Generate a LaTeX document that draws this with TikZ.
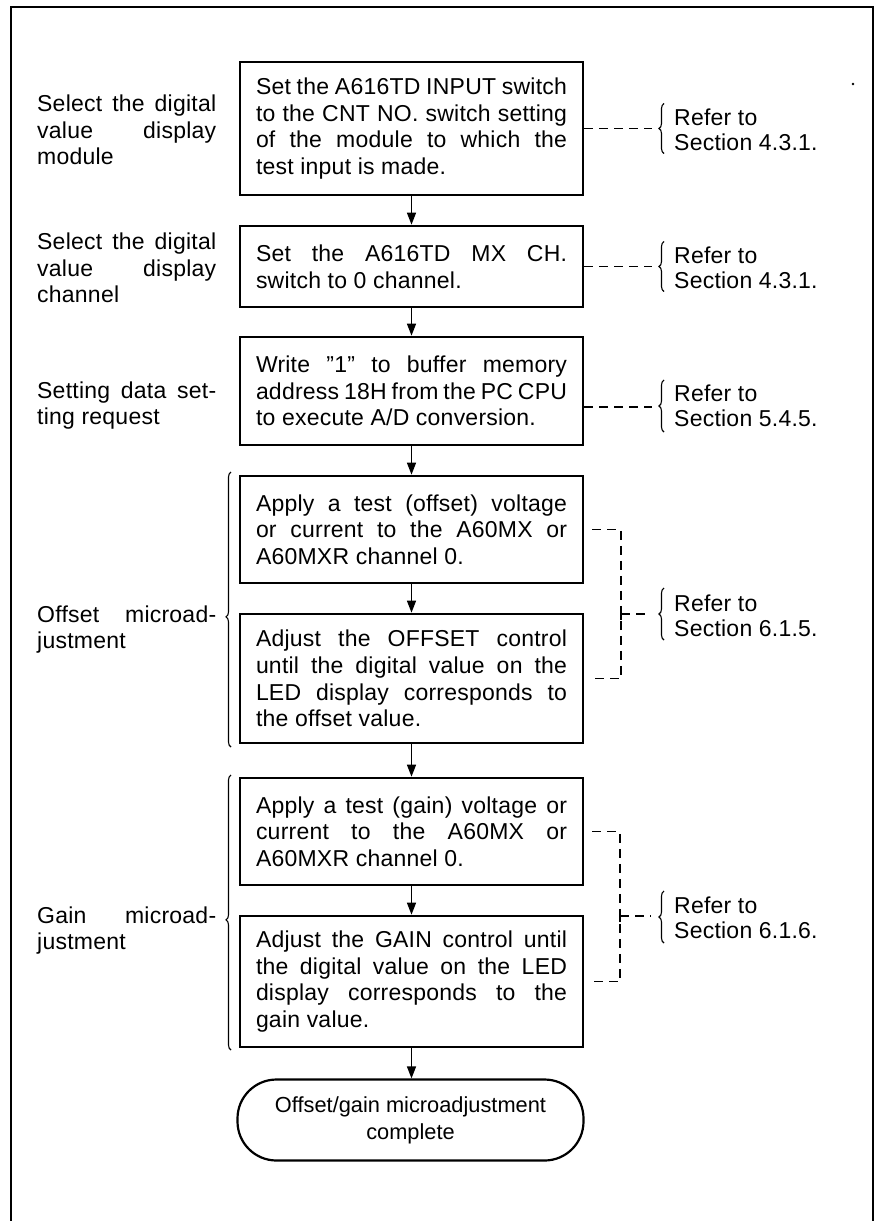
\documentclass[tikz,border=0pt]{standalone}
\usepackage{fontspec}
\setmainfont{Liberation Sans}[LetterSpace=1]
\newfontfamily\termfont{Liberation Sans}
\usetikzlibrary{arrows.meta,decorations.pathreplacing}
\tolerance=9999
\hbadness=10000
\hfuzz=20pt
\tikzset{
 stepbox/.style={draw, line width=2.7pt, minimum width=343pt, text width=311pt, align=justify, inner sep=0pt, font=\fontsize{23}{26.7}\selectfont},
 lbl/.style={anchor=west, text width=179pt, align=justify, inner sep=0pt, font=\fontsize{23}{26.5}\selectfont},
 ref/.style={anchor=west, align=left, inner sep=0pt, font=\fontsize{23}{25}\selectfont},
 term/.style={draw, line width=2.2pt, rounded corners=39pt, minimum width=346pt, minimum height=81pt, align=center, inner sep=0pt, font=\termfont\fontsize{21.8}{27}\selectfont},
 arr/.style={line width=1.5pt, -{Triangle[length=12pt,width=9pt]}},
 dsh/.style={line width=1.5pt, dash pattern=on 9pt off 6pt},
 brc/.style={line width=1.1pt, decorate, decoration={brace, amplitude=5pt}},
 bigbrc/.style={line width=1.1pt, decorate, decoration={brace, amplitude=5pt, aspect=0.473}},
}
\begin{document}
\begin{tikzpicture}[x=1pt,y=-1pt]
\useasboundingbox (0,0) rectangle (876,1221);
\draw[line width=1.8pt] (11,1221) -- (11,7) -- (873,7) -- (873,1221);
\fill (853,84) circle (1.3pt);

% boxes
\node[stepbox, minimum height=133pt] (b1) at (411.5,128.5) {Set the A616TD INPUT switch\linebreak to the CNT NO. switch setting\linebreak of the module to which the\linebreak test input is made.};
\node[stepbox, minimum height=81pt] (b2) at (411.5,266.5) {Set the A616TD MX CH.\linebreak switch to 0 channel.};
\node[stepbox, minimum height=108pt] (b3) at (411.5,391) {Write "1" to buffer memory\linebreak address 18H from the PC CPU\linebreak to execute A/D conversion.};
\node[stepbox, minimum height=107pt] (b4) at (411.5,529.5) {Apply a test (offset) voltage\linebreak or current to the A60MX or\linebreak A60MXR channel 0.};
\node[stepbox, minimum height=129pt] (b5) at (411.5,678.5) {Adjust the OFFSET control\linebreak until the digital value on the\linebreak LED display corresponds to\linebreak the offset value.};
\node[stepbox, minimum height=107pt] (b6) at (411.5,831.5) {Apply a test (gain) voltage or\linebreak current to the A60MX or\linebreak A60MXR channel 0.};
\node[stepbox, minimum height=131pt] (b7) at (411.5,981.5) {Adjust the GAIN control until\linebreak the digital value on the LED\linebreak display corresponds to the\linebreak gain value.};
\node[term] (t) at (410.5,1120) {Offset/gain microadjustment\\complete};

% arrows
\draw[arr] (b1) -- (b2);
\draw[arr] (b2) -- (b3);
\draw[arr] (b3) -- (b4);
\draw[arr] (b4) -- (b5);
\draw[arr] (b5) -- (b6);
\draw[arr] (b6) -- (b7);
\draw[arr] (b7.south) -- (b7.south |- t.north);

% left labels
\node[lbl] (l1) at (37,130) {Select the digital\linebreak value display\linebreak module};
\node[lbl] (l2) at (37,268) {Select the digital\linebreak value display\linebreak channel};
\node[lbl] (l3) at (37,405.5) {Setting data set-\linebreak ting request};
\node[lbl] (l4) at (37,629.5) {Offset microad-\linebreak justment};
\node[lbl] (l5) at (37,930.5) {Gain microad-\linebreak justment};
\draw[bigbrc] (231,747) -- (231,472);
\draw[bigbrc] (231,1050) -- (231,775);

% right references
\coordinate (r1) at (652,128.5);
\coordinate (r2) at (652,266.5);
\coordinate (r3) at (652,407);
\draw[dsh] (b1.east) -- (r1);
\draw[dsh] (b2.east) -- (r2);
\draw[dsh] (b3.east |- r3) -- (r3);
\draw[brc] (664,153.5) -- (664,103.5);
\draw[brc] (664,291.5) -- (664,241.5);
\draw[brc] (664,432) -- (664,380);
\node[ref] (f1) at (674,130) {Refer to\\Section 4.3.1.};
\node[ref] (f2) at (674,267.5) {Refer to\\Section 4.3.1.};
\node[ref] (f3) at (674,405.5) {Refer to\\Section 5.4.5.};

% offset bracket
\coordinate (k1) at (621,529.5);
\coordinate (k2) at (621,678.5);
\coordinate (k3) at (621,614);
\coordinate (r4) at (651,614);
\draw[dsh] ([xshift=8pt]b4.east) -- (k1) -- (k2) -- ([xshift=8pt]b5.east);
\draw[dsh] (k3) -- (r4);
\draw[line width=1.5pt] ([yshift=-6pt]k3) -- ([yshift=6pt]k3);
\draw[brc] (664,640) -- (664,588);
\node[ref] (f4) at (674,615.5) {Refer to\\Section 6.1.5.};

% gain bracket
\coordinate (k4) at (620,831.5);
\coordinate (k5) at (620,981.5);
\coordinate (k6) at (620,916);
\coordinate (r5) at (651,916);
\draw[dsh] ([xshift=8pt]b6.east) -- (k4) -- (k5) -- ([xshift=8pt]b7.east);
\draw[dsh] (k6) -- (r5);
\draw[line width=1.5pt] ([yshift=-6pt]k6) -- ([yshift=6pt]k6);
\draw[brc] (664,943) -- (664,891);
\node[ref] (f5) at (674,917.5) {Refer to\\Section 6.1.6.};
\end{tikzpicture}
\end{document}
